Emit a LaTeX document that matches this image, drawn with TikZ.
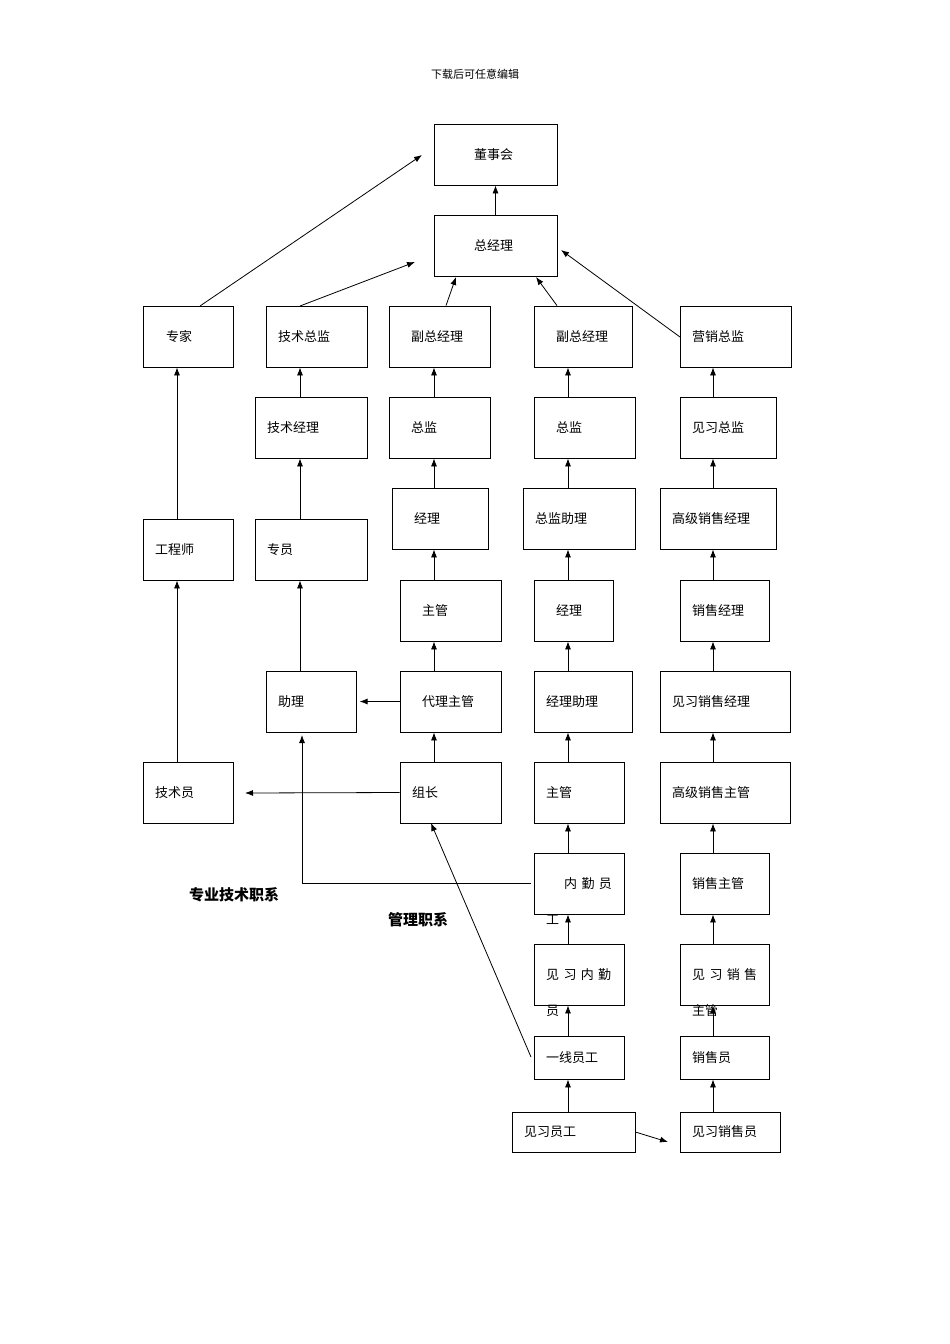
\documentclass[tikz,border=0pt]{standalone}
\usepackage{fontspec}
\setmainfont{Noto Sans CJK SC}
\usetikzlibrary{arrows.meta}
\begin{document}
\begin{tikzpicture}[x=1pt,y=-1pt,
  box/.style={draw,line width=0.8pt,inner sep=0pt},
  lbl/.style={anchor=west,inner sep=0pt,font=\fontsize{13}{15}\selectfont},
  arr/.style={-{Latex[length=8pt,width=6pt]},line width=0.8pt}]
\useasboundingbox (0,0) rectangle (950,1344);
\newcommand\bx[7]{\node[box,minimum width=#4-#2,minimum height=#5-#3] (#1) at ({(#2+#4)/2},{(#3+#5)/2}) {};
  \node[lbl] at ({#2+#7},{(#3+#5)/2}) {#6};}
\node[font=\fontsize{11}{13}\selectfont] (hd) at (475,74) {下载后可任意编辑};
\bx{dsh}{434}{124}{557}{185}{董事会}{40}
\bx{zjl}{434}{215}{557}{276}{总经理}{40}
\bx{zj}{143}{306}{233}{367}{专家}{23}
\bx{jszj}{266}{306}{367}{367}{技术总监}{12}
\bx{fz1}{389}{306}{490}{367}{副总经理}{22}
\bx{fz2}{534}{306}{632}{367}{副总经理}{22}
\bx{yx}{680}{306}{791}{367}{营销总监}{12}
\bx{jsjl}{255}{397}{367}{458}{技术经理}{12}
\bx{zjA}{389}{397}{490}{458}{总监}{22}
\bx{zjB}{534}{397}{635}{458}{总监}{22}
\bx{jxzj}{680}{397}{776}{458}{见习总监}{12}
\bx{gcs}{143}{519}{233}{580}{工程师}{12}
\bx{zy}{255}{519}{367}{580}{专员}{12}
\bx{jlA}{392}{488}{488}{549}{经理}{22}
\bx{zjzl}{523}{488}{635}{549}{总监助理}{12}
\bx{gjxsjl}{660}{488}{776}{549}{高级销售经理}{12}
\bx{zgA}{400}{580}{501}{641}{主管}{22}
\bx{jlB}{534}{580}{613}{641}{经理}{22}
\bx{xsjl}{680}{580}{769}{641}{销售经理}{12}
\bx{zl}{266}{671}{356}{732}{助理}{12}
\bx{dlzg}{400}{671}{501}{732}{代理主管}{22}
\bx{jlzl}{534}{671}{632}{732}{经理助理}{12}
\bx{jxxsjl}{660}{671}{790}{732}{见习销售经理}{12}
\bx{jsy}{143}{762}{233}{823}{技术员}{12}
\bx{zz}{400}{762}{501}{823}{组长}{12}
\bx{zgB}{534}{762}{624}{823}{主管}{12}
\bx{gjxszg}{660}{762}{790}{823}{高级销售主管}{12}
\bx{nq}{534}{853}{624}{914}{内\,\,勤\,\,员}{30}
\node[lbl] (nqw) at (546,920) {工};
\bx{xszg}{680}{853}{769}{914}{销售主管}{12}
\bx{jxnq}{534}{944}{624}{1005}{见\,\,习\,\,内\,\,勤}{12}
\node[lbl] (jxnqw) at (546,1011) {员};
\bx{jxxszg}{680}{944}{769}{1005}{见\,\,习\,\,销\,\,售}{12}
\node[lbl] (jxxszgw) at (692,1011) {主管};
\bx{yxyg}{534}{1036}{624}{1079}{一线员工}{12}
\bx{xsy}{680}{1036}{769}{1079}{销售员}{12}
\bx{jxyg}{512}{1112}{635}{1152}{见习员工}{12}
\bx{jxxsy}{680}{1112}{780}{1152}{见习销售员}{12}
\node[font=\bfseries\fontsize{15}{17}\selectfont] (l1) at (234,895) {专业技术职系};
\node[font=\bfseries\fontsize{15}{17}\selectfont] (l2) at (418,920) {管理职系};
\coordinate (e1) at (422,155); \coordinate (e2) at (415,262);
\coordinate (e3) at (245,793); \coordinate (e4) at (668,1142);
\coordinate (k1) at (302,883);
\draw[arr] (zjl) -- (dsh);
\draw[arr] (200,306) -- (e1);
\draw[arr] (300,306) -- (e2);
\draw[arr] (fz1.north -| 446,0) -- (456,277);
\draw[arr] (fz2.north -| 557,0) -- (536,277);
\draw[arr] (680,337) -- (561,250);
\draw[arr] (gcs.north -| 177,0) -- (zj.south -| 177,0);
\draw[arr] (jsy.north -| 177,0) -- (gcs.south -| 177,0);
\draw[arr] (jsjl.north -| 300,0) -- (jszj.south -| 300,0);
\draw[arr] (zy.north -| 300,0) -- (jsjl.south -| 300,0);
\draw[arr] (zl.north -| 300,0) -- (zy.south -| 300,0);
\foreach \a/\b in {zjA/fz1,jlA/zjA,zgA/jlA,dlzg/zgA,zz/dlzg}
  \draw[arr] (\a.north -| 434,0) -- (\b.south -| 434,0);
\foreach \a/\b in {zjB/fz2,zjzl/zjB,jlB/zjzl,jlzl/jlB,zgB/jlzl,nq/zgB,jxnq/nq,yxyg/jxnq,jxyg/yxyg}
  \draw[arr] (\a.north -| 568,0) -- (\b.south -| 568,0);
\foreach \a/\b in {jxzj/yx,gjxsjl/jxzj,xsjl/gjxsjl,jxxsjl/xsjl,gjxszg/jxxsjl,xszg/gjxszg,jxxszg/xszg,xsy/jxxszg,jxxsy/xsy}
  \draw[arr] (\a.north -| 713,0) -- (\b.south -| 713,0);
\draw[arr] (dlzg.west) -- ++(-40,0);
\draw[arr] (zz.west) -- (e3);
\draw[arr] (531,883) -- (k1) -- (302,735);
\draw[arr] (531,1057) -- (431,823);
\draw[arr] (jxyg.east) -- (e4);
\end{tikzpicture}
\end{document}
